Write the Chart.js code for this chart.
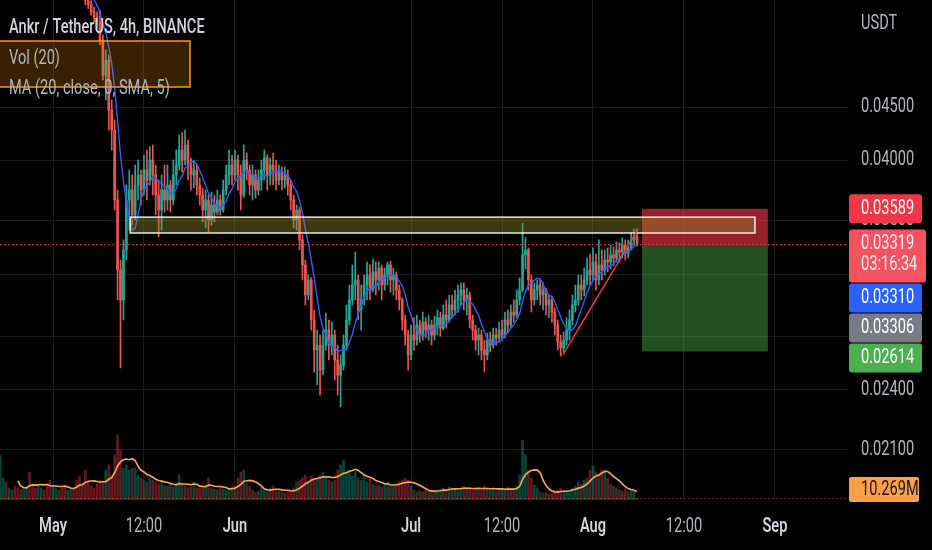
<!DOCTYPE html>
<html>
<head>
<meta charset="utf-8">
<title>Ankr / TetherUS 4h</title>
<script src="https://cdn.jsdelivr.net/npm/chart.js@4.4.1/dist/chart.umd.min.js"></script>
<style>
  html, body { margin: 0; padding: 0; background: #000; }
  #wrap { width: 932px; height: 550px; }
</style>
</head>
<body>
<div id="wrap"><canvas id="priceChart" width="932" height="550"></canvas></div>
<script>
// prices are in units of 0.00001 USDT, one candle = 12h (coarser than the 4h original)
const PRICE_UNIT = 1e-5;

const opens = [
  6150,6200,6350,6280,6400,6500,6420,6300,6250,6380,
  6450,6320,6200,6150,6250,6300,6180,6100,6050,6150,
  6220,6100,6000,5950,6050,6100,5980,5900,5850,5800,
  5700,5650,5560,5500,5420,5222,4830,4995,4470,4276,
  3660,3133,2931,3275,3660,3742,3540,3784,3869,3742,
  3912,3826,4000,3869,3700,3579,3742,3660,3784,3660,
  3869,3956,4090,4000,4136,3956,3869,3912,3784,3700,
  3579,3660,3501,3620,3563,3660,3579,3742,3869,3956,
  3869,4000,3869,3700,4000,3912,3784,3869,3742,3826,
  3912,4018,3869,3956,3912,3826,3895,3826,3869,3784,
  3660,3501,3579,3349,3168,2963,3064,2803,2622,2651,
  2508,2651,2741,2651,2711,2565,2480,2536,2651,2803,
  2931,3030,3064,2866,2931,3030,3098,2996,3119,3064,
  3147,3030,3098,3168,3064,3098,2996,2931,2803,2711,
  2594,2711,2681,2772,2711,2790,2741,2772,2711,2772,
  2818,2753,2834,2803,2898,2866,2931,2963,2996,2931,
  2963,2803,2741,2681,2711,2622,2594,2681,2651,2711,
  2693,2741,2711,2803,2772,2853,2834,2931,2996,3239,
  3275,3064,2931,2996,3030,2963,2996,2898,2931,2853,
  2772,2669,2634,2681,2741,2803,2898,2931,3030,2996,
  3064,3133,3098,3189,3064,3168,3133,3203,3189,3239,
  3218,3275,3260,3312,3253,3290,3349,3380
];
const highs = [
  6300,6420,6400,6480,6580,6550,6460,6350,6420,6520,
  6480,6350,6260,6300,6380,6340,6220,6160,6200,6280,
  6250,6140,6060,6100,6180,6120,6020,5960,5900,5850,
  5760,5700,5620,5560,5582,5280,5108,5050,4571,4372,
  3742,3203,3349,3785,3912,3869,3956,4000,3912,4045,
  4090,4118,4136,3956,3826,3869,3956,3956,3826,4000,
  4090,4229,4252,4276,4182,4018,4000,3956,3843,3759,
  3742,3700,3725,3700,3742,3700,3826,3956,4090,4045,
  4090,4045,3956,4136,4063,3956,3956,3912,3912,4000,
  4090,4045,4018,4063,4000,3956,3939,3939,3912,3826,
  3700,3620,3600,3387,3203,3098,3080,2866,2741,2711,
  2741,2847,2803,2790,2741,2651,2594,2711,2898,3030,
  3168,3260,3098,3030,3098,3189,3168,3210,3189,3189,
  3168,3147,3189,3196,3147,3119,3030,2944,2834,2741,
  2772,2818,2834,2803,2853,2818,2834,2803,2827,2866,
  2853,2898,2931,2963,2963,2996,3030,3044,3044,3010,
  2983,2834,2772,2753,2741,2681,2723,2729,2753,2753,
  2790,2803,2853,2866,2898,2931,2996,3078,3474,3366,
  3290,3098,3044,3064,3064,3044,3010,2963,2957,2879,
  2803,2711,2729,2818,2866,2963,3030,3098,3098,3147,
  3218,3246,3290,3246,3349,3275,3275,3290,3312,3297,
  3334,3327,3364,3349,3349,3402,3432,3432
];
const lows = [
  6100,6150,6220,6250,6350,6380,6250,6180,6200,6330,
  6280,6150,6080,6100,6200,6120,6030,5980,6000,6100,
  6050,5950,5880,5900,6000,5920,5850,5790,5740,5650,
  5600,5520,5440,5360,5165,4778,4571,4276,4090,3579,
  2931,2520,2803,3203,3424,3462,3501,3660,3620,3700,
  3660,3784,3700,3540,3371,3424,3563,3579,3563,3620,
  3784,3912,3895,3956,3826,3742,3759,3700,3620,3486,
  3440,3410,3462,3486,3540,3540,3563,3700,3784,3784,
  3826,3742,3579,3680,3826,3700,3660,3676,3700,3742,
  3826,3742,3784,3784,3742,3784,3742,3759,3700,3579,
  3440,3424,3275,3064,2898,2931,2741,2497,2426,2373,
  2480,2622,2565,2594,2453,2373,2311,2508,2622,2772,
  2898,2931,2803,2741,2898,2931,2931,2983,2963,2996,
  2931,2996,3030,2983,2963,2931,2866,2741,2651,2508,
  2565,2622,2651,2669,2681,2693,2681,2651,2681,2711,
  2705,2741,2753,2790,2818,2834,2853,2898,2866,2834,
  2753,2681,2622,2594,2565,2497,2565,2611,2634,2651,
  2669,2681,2693,2729,2753,2790,2818,2898,2983,3140,
  2996,2853,2898,2931,2898,2866,2834,2818,2790,2711,
  2622,2588,2611,2651,2681,2772,2853,2898,2931,2957,
  3030,3030,3064,2996,3030,3064,3098,3119,3140,3161,
  3189,3189,3218,3203,3218,3275,3312,3305
];
const closes = [
  6200,6350,6280,6400,6500,6420,6300,6250,6380,6450,
  6320,6200,6150,6250,6300,6180,6100,6050,6150,6220,
  6100,6000,5950,6050,6100,5980,5900,5850,5800,5700,
  5650,5560,5500,5420,5222,4830,4995,4470,4276,3660,
  3133,2931,3275,3660,3742,3540,3784,3869,3742,3912,
  3826,4000,3869,3700,3579,3742,3660,3784,3660,3869,
  3956,4090,4000,4136,3956,3869,3912,3784,3700,3579,
  3660,3501,3620,3563,3660,3579,3742,3869,3956,3869,
  4000,3869,3700,4000,3912,3784,3869,3742,3826,3912,
  4018,3869,3956,3912,3826,3895,3826,3869,3784,3660,
  3501,3579,3349,3168,2963,3064,2803,2622,2651,2508,
  2651,2741,2651,2711,2565,2480,2536,2651,2803,2931,
  3030,3064,2866,2931,3030,3098,2996,3119,3064,3147,
  3030,3098,3168,3064,3098,2996,2931,2803,2711,2594,
  2711,2681,2772,2711,2790,2741,2772,2711,2772,2818,
  2753,2834,2803,2898,2866,2931,2963,2996,2931,2963,
  2803,2741,2681,2711,2622,2594,2681,2651,2711,2693,
  2741,2711,2803,2772,2853,2834,2931,2996,3239,3275,
  3064,2931,2996,3030,2963,2996,2898,2931,2853,2772,
  2669,2634,2681,2741,2803,2898,2931,3030,2996,3064,
  3133,3098,3189,3064,3168,3133,3203,3189,3239,3218,
  3275,3260,3312,3253,3290,3349,3380,3319
];
// volume in millions of ANKR
const volumes = [
  315,154,126,84,70,98,84,70,84,98,
  196,112,84,98,84,70,112,140,98,84,
  70,84,98,70,84,77,140,168,112,210,
  126,98,84,112,140,126,210,245,175,315,
  455,350,224,245,210,224,224,175,154,140,
  126,154,140,126,112,126,105,98,112,91,
  98,175,112,98,84,91,126,84,84,98,
  91,154,84,77,70,84,77,70,84,91,
  98,154,196,210,112,98,70,56,63,84,
  70,56,84,98,70,63,56,49,56,63,
  84,126,140,154,175,126,168,140,154,175,
  196,168,140,126,140,210,245,280,196,210,
  168,196,154,140,175,126,154,112,98,105,
  91,112,126,105,98,112,126,140,154,140,
  98,70,56,63,56,70,63,56,70,63,
  77,84,70,91,84,77,70,84,98,77,
  84,70,77,84,70,98,84,70,77,63,
  84,70,77,91,77,70,98,175,420,315,
  210,154,105,84,56,49,56,42,49,63,
  70,84,63,56,70,84,98,126,112,140,
  154,210,238,196,175,210,210,154,112,98,
  84,70,63,77,56,70,63,10.269
];

// time axis, in candle index (index 18 = 1 May 00:00)
const timeTicks = [18, 49, 80, 140, 171, 202, 233, 264];
const timeLabels = ['May', '12:00', 'Jun', 'Jul', '12:00', 'Aug', '12:00', 'Sep'];
const priceTicks = [0.021, 0.024, 0.027, 0.031, 0.035, 0.040, 0.045];

// drawings on the chart
const zoneSpan = [44.3, 257.2];
const zoneLevels = [0.03523, 0.03401];
const positionSpan = [218.7, 261.6];
const stopLevel = 0.03589;
const entryLevel = 0.03306;
const targetLevel = 0.02614;
const trendLine = [[191.8, 0.02595], [217.4, 0.03432]];
const maLastLabel = 0.03310;
const countdown = '03:16:34';
const lastVolumeLabel = '10.269M';

const maPeriod = 7; // 7 x 12h ~ the 20 x 4h of the original
const SQUEEZE = 0.73;
const UP = '#26a69a', DOWN = '#ef5350';

function sma(values, n) {
  return values.map((v, i) => {
    if (i < n - 1) return null;
    let s = 0;
    for (let k = i - n + 1; k <= i; k++) s += values[k];
    return s / n;
  });
}

const idx = closes.map((_, i) => i);
const isUp = idx.map(i => closes[i] >= opens[i]);
const candleColors = isUp.map(u => u ? UP : DOWN);
const volColors = isUp.map(u => u ? 'rgba(8,153,129,0.45)' : 'rgba(242,54,69,0.42)');
const priceMA = sma(closes, maPeriod);
const volMA = sma(volumes, maPeriod);

function drawText(ctx, str, x, y, size, color, weight, align) {
  ctx.save();
  ctx.font = (weight || 'normal') + ' ' + size + 'px Roboto, "Liberation Sans", sans-serif';
  ctx.fillStyle = color;
  ctx.textBaseline = 'middle';
  const w = ctx.measureText(str).width * SQUEEZE;
  const x0 = align === 'center' ? x - w / 2 : x;
  ctx.translate(x0, y);
  ctx.scale(SQUEEZE, 1);
  ctx.fillText(str, 0, 0);
  ctx.restore();
}

function roundRect(ctx, x, y, w, h, r, fill) {
  ctx.beginPath();
  ctx.moveTo(x + r, y);
  ctx.lineTo(x + w - r, y);
  ctx.quadraticCurveTo(x + w, y, x + w, y + r);
  ctx.lineTo(x + w, y + h - r);
  ctx.quadraticCurveTo(x + w, y + h, x + w - r, y + h);
  ctx.lineTo(x + r, y + h);
  ctx.quadraticCurveTo(x, y + h, x, y + h - r);
  ctx.lineTo(x, y + r);
  ctx.quadraticCurveTo(x, y, x + r, y);
  ctx.closePath();
  ctx.fillStyle = fill;
  ctx.fill();
}

const drawings = {
  id: 'drawings',
  afterDatasetsDraw(chart) {
    const { ctx, chartArea, scales } = chart;
    const x = v => scales.x.getPixelForValue(v);
    const y = v => scales.y.getPixelForValue(v);
    ctx.save();
    ctx.beginPath();
    ctx.rect(chartArea.left, chartArea.top, chartArea.right - chartArea.left, chartArea.bottom - chartArea.top);
    ctx.clip();

    // short position tool
    const px0 = x(positionSpan[0]), px1 = x(positionSpan[1]);
    ctx.fillStyle = 'rgba(242,54,69,0.62)';
    ctx.fillRect(px0, y(stopLevel), px1 - px0, y(entryLevel) - y(stopLevel));
    ctx.fillStyle = 'rgba(76,175,80,0.45)';
    ctx.fillRect(px0, y(entryLevel), px1 - px0, y(targetLevel) - y(entryLevel));

    // resistance zone
    const zx0 = x(zoneSpan[0]), zx1 = x(zoneSpan[1]);
    const zy0 = y(zoneLevels[0]), zy1 = y(zoneLevels[1]);
    ctx.fillStyle = 'rgba(150,140,40,0.4)';
    ctx.fillRect(zx0, zy0, zx1 - zx0, zy1 - zy0);
    ctx.strokeStyle = 'rgba(255,255,255,0.9)';
    ctx.lineWidth = 1.5;
    ctx.strokeRect(zx0, zy0, zx1 - zx0, zy1 - zy0);

    // trend line
    ctx.strokeStyle = '#f23645';
    ctx.lineWidth = 1.5;
    ctx.beginPath();
    ctx.moveTo(x(trendLine[0][0]), y(trendLine[0][1]));
    ctx.lineTo(x(trendLine[1][0]), y(trendLine[1][1]));
    ctx.stroke();

    // last price and last volume lines
    ctx.setLineDash([1.5, 2.5]);
    ctx.lineWidth = 1;
    ctx.strokeStyle = '#f23645';
    const lp = Math.round(y(closes[closes.length - 1] * PRICE_UNIT)) + 0.5;
    ctx.beginPath(); ctx.moveTo(chartArea.left, lp); ctx.lineTo(chartArea.right, lp); ctx.stroke();
    ctx.strokeStyle = 'rgba(242,80,69,0.6)';
    const lv = Math.round(scales.vol.getPixelForValue(volumes[volumes.length - 1])) - 0.5;
    ctx.beginPath(); ctx.moveTo(chartArea.left, lv); ctx.lineTo(chartArea.right, lv); ctx.stroke();
    ctx.restore();
  },
  afterDraw(chart) {
    const { ctx, chartArea, scales } = chart;
    const labelX = chartArea.right + 13;
    const tagX = chartArea.right + 1;

    scales.y.ticks.forEach(t => {
      drawText(ctx, t.value.toFixed(5), labelX, scales.y.getPixelForValue(t.value), 20, '#b2b5be');
    });
    drawText(ctx, 'USDT', labelX, 24, 20, '#b2b5be');

    scales.x.ticks.forEach((t, k) => {
      const lbl = timeLabels[k];
      const month = lbl !== '12:00';
      drawText(ctx, lbl, scales.x.getPixelForValue(t.value), 527, 20,
        month ? '#d1d4dc' : '#b2b5be', month ? '600' : 'normal', 'center');
    });

    // price tags, stacked so they do not overlap
    const last = closes[closes.length - 1] * PRICE_UNIT;
    const tags = [
      { value: stopLevel, lines: [stopLevel.toFixed(5)], bg: '#f23645', fg: '#ffffff', w: 73 },
      { value: last, lines: [last.toFixed(5), countdown], bg: '#f7525f', fg: '#fff2f2', w: 77 },
      { value: maLastLabel, lines: [maLastLabel.toFixed(5)], bg: '#2962ff', fg: '#ffffff', w: 73 },
      { value: entryLevel, lines: [entryLevel.toFixed(5)], bg: '#787b86', fg: '#ffffff', w: 73 },
      { value: targetLevel, lines: [targetLevel.toFixed(5)], bg: '#4caf50', fg: '#ffffff', w: 73 }
    ];
    let prevBottom = -Infinity;
    tags.forEach(tg => {
      const h = tg.lines.length === 1 ? 29 : 53;
      let top = scales.y.getPixelForValue(tg.value) - 14.5;
      if (top < prevBottom + 1) top = prevBottom + 1;
      roundRect(ctx, tagX, top, tg.w, h, 3, tg.bg);
      tg.lines.forEach((s, k) => drawText(ctx, s, labelX, top + 15 + k * 21, 20, tg.fg));
      prevBottom = top + h;
    });

    // volume tag
    let vTop = scales.vol.getPixelForValue(volumes[volumes.length - 1]) - 12.5;
    vTop = Math.min(vTop, chartArea.bottom + 2 - 25);
    roundRect(ctx, tagX, vTop, 70, 25, 2, '#ff9f45');
    drawText(ctx, lastVolumeLabel, labelX, vTop + 13, 20, '#131722');

    // legend block
    ctx.save();
    ctx.fillStyle = 'rgba(255,152,0,0.22)';
    ctx.fillRect(-2, 41, 192, 46);
    ctx.strokeStyle = '#ff9800';
    ctx.lineWidth = 1.5;
    ctx.strokeRect(-2, 41, 192, 46);
    ctx.restore();
    drawText(ctx, 'Ankr / TetherUS, 4h, BINANCE', 9, 28, 20, '#d1d4dc', '500');
    drawText(ctx, 'Vol (20)', 9, 59, 20, '#b2b5be');
    drawText(ctx, 'MA (20, close, 0, SMA, 5)', 9, 89, 20, '#b2b5be');
  }
};

const gridColor = '#1c1c1c';
const ctx = document.getElementById('priceChart').getContext('2d');
new Chart(ctx, {
  type: 'bar',
  data: {
    datasets: [
      {
        label: 'Volume',
        yAxisID: 'vol',
        data: idx.map(i => ({ x: i, y: volumes[i] })),
        backgroundColor: volColors,
        barThickness: 2,
        grouped: false,
        order: 5
      },
      {
        type: 'line',
        label: 'Volume MA',
        yAxisID: 'vol',
        data: idx.map(i => ({ x: i, y: volMA[i] })),
        borderColor: '#ffa54f',
        borderWidth: 1.6,
        pointRadius: 0,
        tension: 0,
        order: 4
      },
      {
        label: 'Wicks',
        yAxisID: 'y',
        data: idx.map(i => ({ x: i, y: [lows[i] * PRICE_UNIT, highs[i] * PRICE_UNIT] })),
        backgroundColor: candleColors,
        barThickness: 1,
        grouped: false,
        order: 3
      },
      {
        label: 'Bodies',
        yAxisID: 'y',
        data: idx.map(i => ({
          x: i,
          y: [Math.min(opens[i], closes[i]) * PRICE_UNIT, Math.max(opens[i], closes[i]) * PRICE_UNIT]
        })),
        backgroundColor: candleColors,
        barThickness: 2,
        minBarLength: 1,
        grouped: false,
        order: 2
      },
      {
        type: 'line',
        label: 'MA',
        yAxisID: 'y',
        data: idx.map(i => ({ x: i, y: priceMA[i] === null ? null : priceMA[i] * PRICE_UNIT })),
        borderColor: '#2962ff',
        borderWidth: 1.4,
        pointRadius: 0,
        tension: 0,
        order: 1
      }
    ]
  },
  options: {
    responsive: false,
    animation: false,
    layout: { padding: 0 },
    plugins: { legend: { display: false }, tooltip: { enabled: false } },
    scales: {
      x: {
        type: 'linear',
        min: -0.06,
        max: 288.9,
        offset: false,
        grid: { color: gridColor, drawTicks: false, offset: false },
        border: { display: false },
        ticks: { display: false },
        afterBuildTicks: s => { s.ticks = timeTicks.map(v => ({ value: v })); },
        afterFit: s => { s.height = 50; }
      },
      y: {
        type: 'logarithmic',
        position: 'right',
        min: 0.01879,
        max: 0.05708,
        grid: { color: gridColor, drawTicks: false },
        border: { display: false },
        ticks: { display: false },
        afterBuildTicks: s => { s.ticks = priceTicks.map(v => ({ value: v })); },
        afterFit: s => { s.width = 84; }
      },
      vol: {
        type: 'linear',
        display: false,
        min: 0,
        max: 3500
      }
    }
  },
  plugins: [drawings]
});
</script>
</body>
</html>
